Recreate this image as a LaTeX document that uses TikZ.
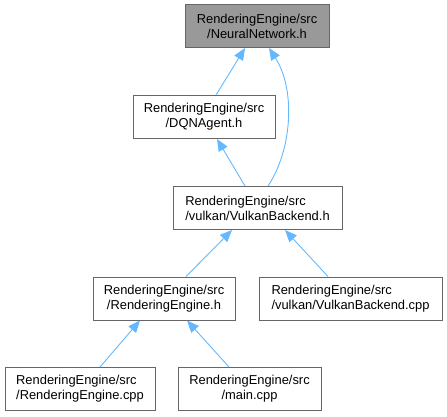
\documentclass[tikz,border=0pt]{standalone}
\usepackage{fontspec}
\setmainfont{Liberation Sans}
\usetikzlibrary{arrows.meta}
\definecolor{edgeblue}{HTML}{63B8FF}
\definecolor{boxline}{HTML}{666666}
\definecolor{rootfill}{HTML}{999999}
\tikzset{
  filebox/.style={draw=boxline, line width=1pt, fill=white, minimum height=43pt,
    inner sep=2pt, align=center, font=\fontsize{12.9}{15}\selectfont},
  rootbox/.style={filebox, fill=rootfill},
  dep/.style={draw=edgeblue, line width=0.9pt, -{Triangle[length=12pt,width=10pt]}}
}
\begin{document}
\begin{tikzpicture}[x=1pt,y=-1pt]
\useasboundingbox (0,0) rectangle (447,416);

\node[rootbox, minimum width=144pt] (nn) at (257,26) {RenderingEngine/src\\/NeuralNetwork.h};
\node[filebox, minimum width=142pt] (dqn) at (204,117) {RenderingEngine/src\\/DQNAgent.h};
\node[filebox, minimum width=169pt, align=left] (vbh) at (257.5,208) {RenderingEngine/src\\/vulkan/VulkanBackend.h};
\node[filebox, minimum width=142pt] (reh) at (164,298.5) {RenderingEngine/src\\/RenderingEngine.h};
\node[filebox, minimum width=183pt, align=left] (vbcpp) at (350.5,298.5) {RenderingEngine/src\\/vulkan/VulkanBackend.cpp};
\node[filebox, minimum width=150pt, align=left] (recpp) at (80,389) {RenderingEngine/src\\/RenderingEngine.cpp};
\node[filebox, minimum width=143pt] (main) at (249.5,389) {RenderingEngine/src\\/main.cpp};

% includes, pointing at the included file
\draw[dep] ([xshift=12pt]dqn.north) -- ([xshift=-12pt]nn.south);
\draw[dep] ([xshift=-12.5pt]vbh.north) -- ([xshift=13pt]dqn.south);
\draw[dep] ([xshift=10.5pt]vbh.north) .. controls (292,150) and (296,90) .. ([xshift=12pt]nn.south);
\draw[dep] ([xshift=22pt]reh.north) -- ([xshift=-25.5pt]vbh.south);
\draw[dep] ([xshift=-22.5pt]vbcpp.north) -- ([xshift=27.5pt]vbh.south);
\draw[dep] ([xshift=20pt]recpp.north) -- ([xshift=-24pt]reh.south);
\draw[dep] ([xshift=-20.5pt]main.north) -- ([xshift=23pt]reh.south);
\end{tikzpicture}
\end{document}
